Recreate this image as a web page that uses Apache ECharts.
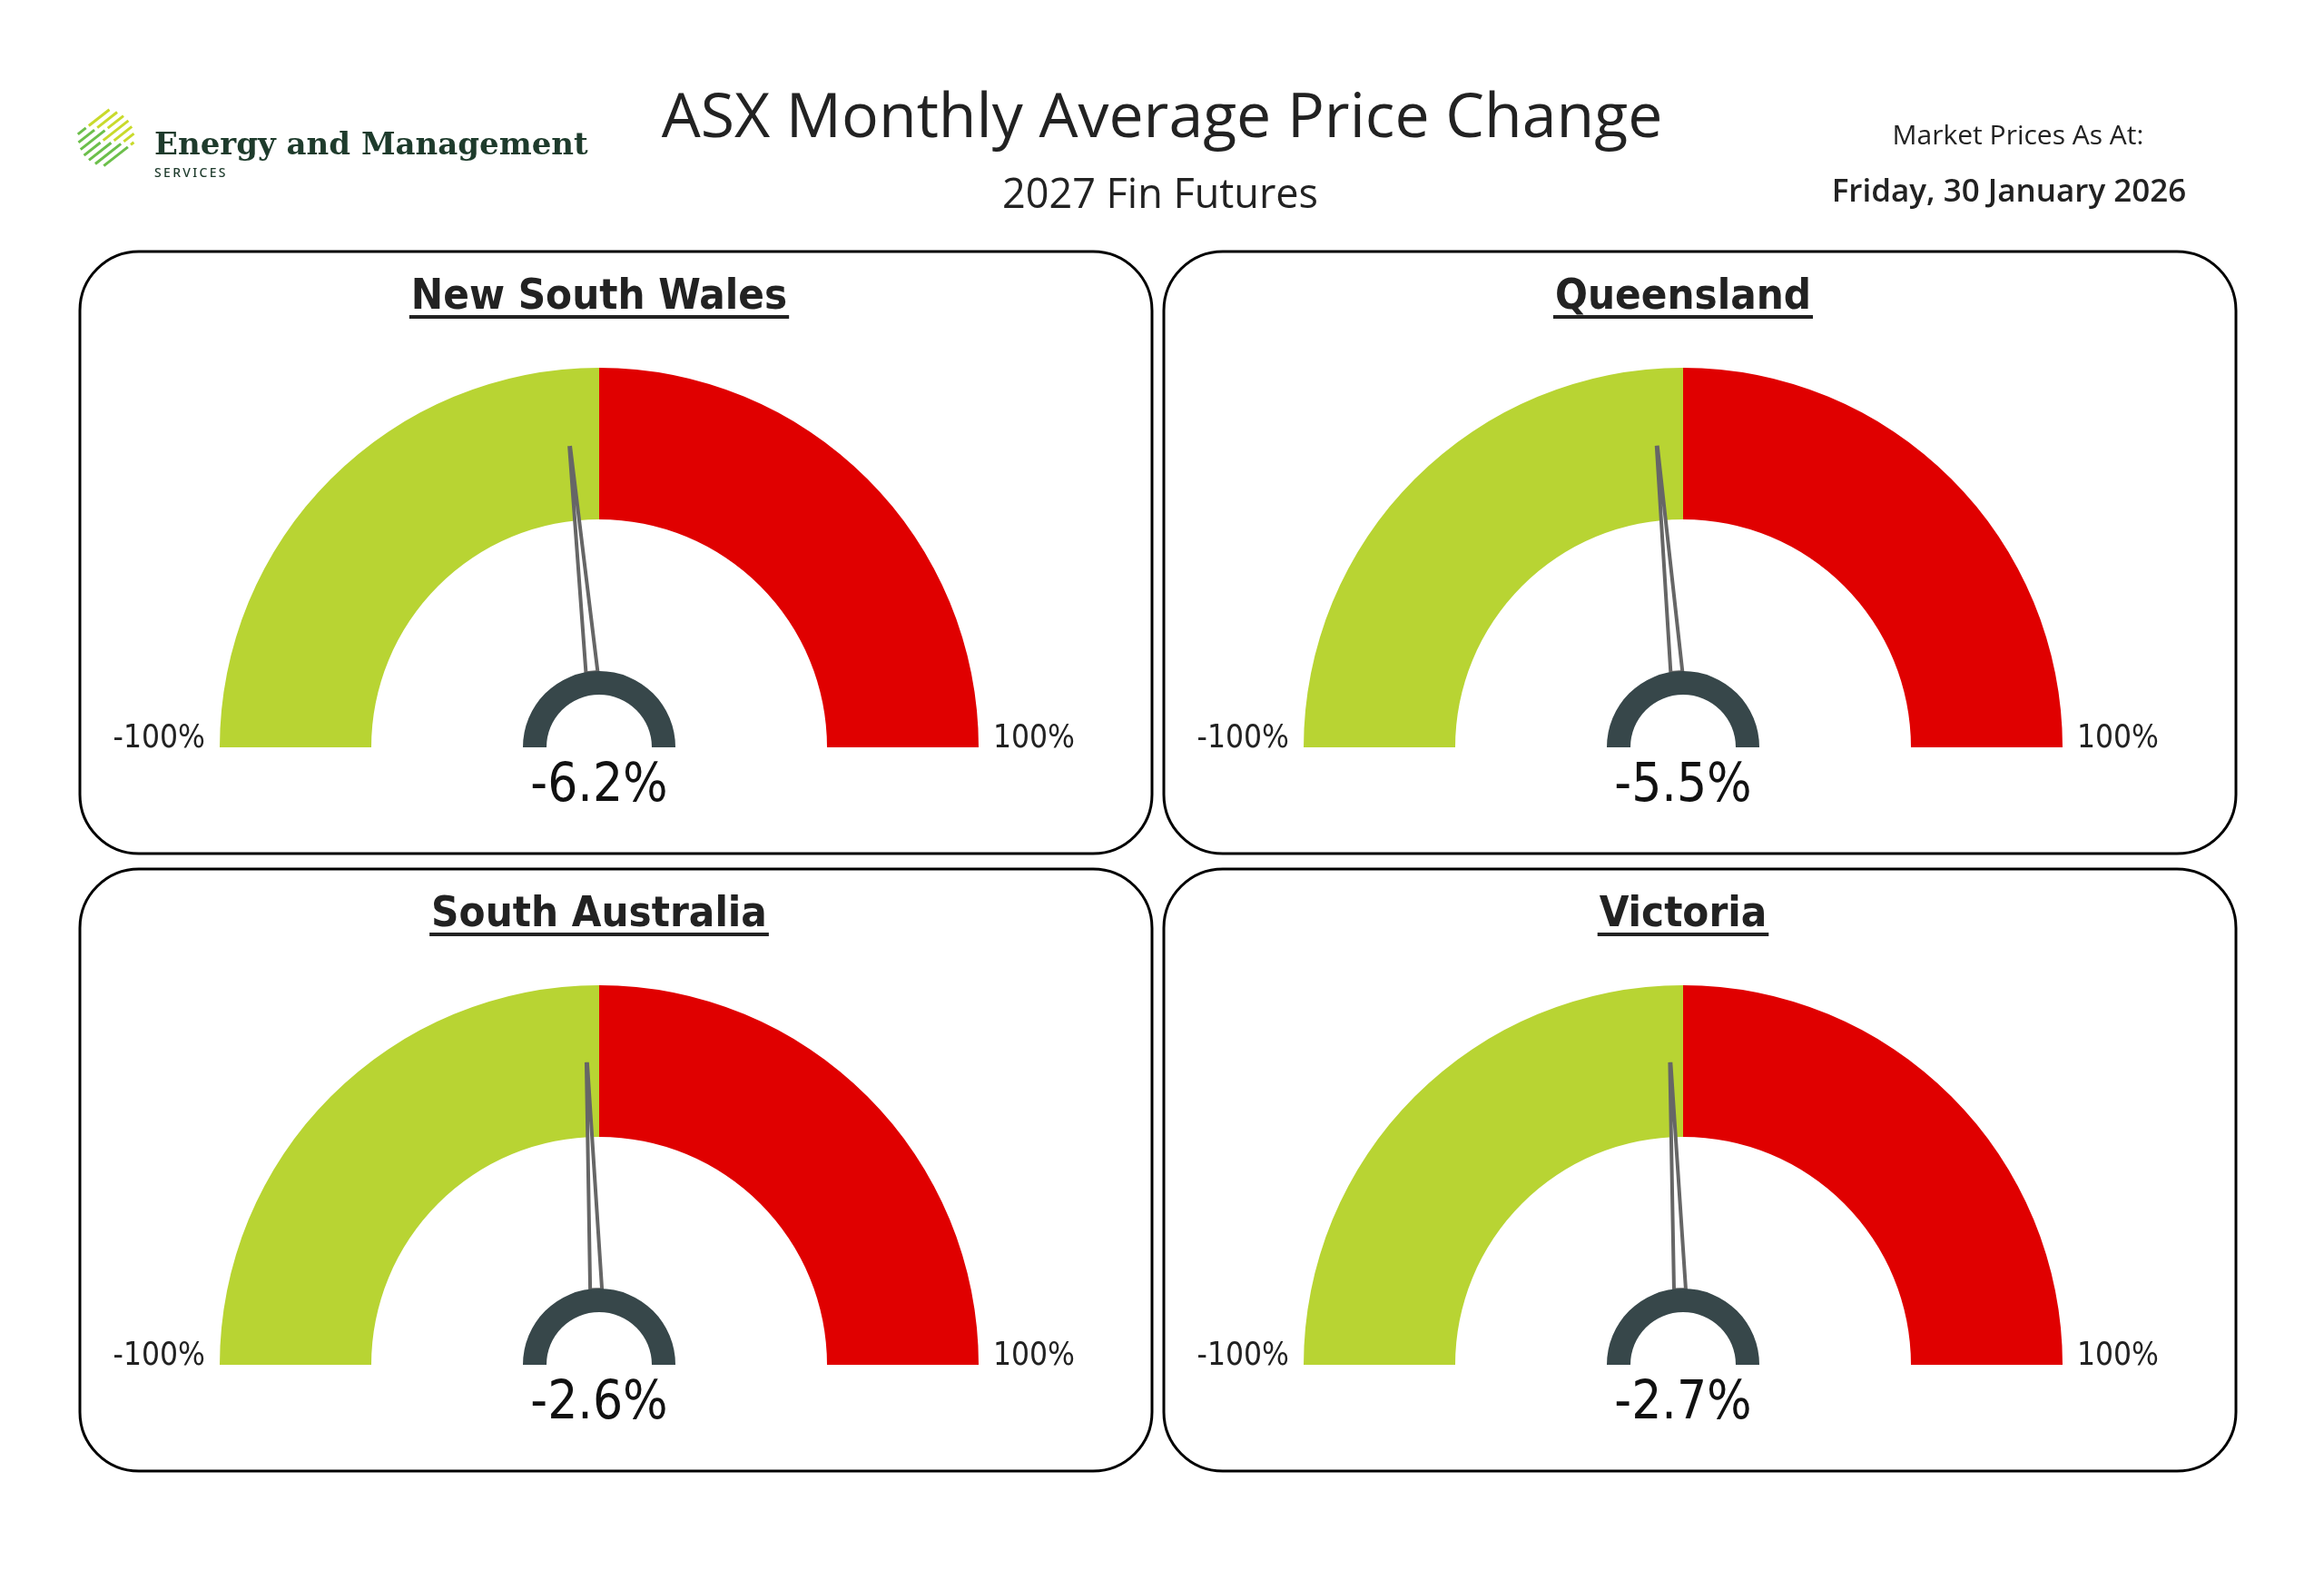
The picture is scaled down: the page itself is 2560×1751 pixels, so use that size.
<!DOCTYPE html>
<html>
<head>
<meta charset="utf-8">
<title>ASX Monthly Average Price Change</title>
<style>
  html, body { margin: 0; padding: 0; background: #fff; }
  #main { width: 2560px; height: 1751px; }
</style>
</head>
<body>
<div id="main"></div>
<script src="https://cdn.jsdelivr.net/npm/echarts@6/dist/echarts.min.js"></script>
<script type="text/javascript">
    // data
    var regions = ['New South Wales', 'Queensland', 'South Australia', 'Victoria'];
    var priceChange = [-6.2, -5.5, -2.6, -2.7];
    var axisMin = -100, axisMax = 100;
    var tickLabels = ['-100%', '100%'];
    var chartTitle = 'ASX Monthly Average Price Change';
    var chartSubtitle = '2027 Fin Futures';
    var asAtLabel = 'Market Prices As At:';
    var asAtDate = 'Friday, 30 January 2026';

    var GREEN = '#b8d433', RED = '#e00000', HUB = '#37474a', NEEDLE = '#666666', INK = '#222222';
    var condFont = '"DejaVu Sans Condensed", "Liberation Sans Narrow", sans-serif';
    var uiFont = '"Open Sans", "Noto Sans", sans-serif';

    var chart = echarts.init(document.getElementById('main'));

    // 2 x 2 panels
    var boxX = [88, 1282], boxY = [277, 957], boxW = 1181, boxH = 663;
    var R = 418, BAND = 167, LABEL_GAP = 16, LABEL_BOX = 130;

    var measure = document.createElement('canvas').getContext('2d');
    function textWidth(t, font) { measure.font = font; return measure.measureText(t).width; }

    var series = [], graphic = [];

    regions.forEach(function (name, i) {
        var bx = boxX[i % 2], by = boxY[Math.floor(i / 2)];
        var cx = bx + 572, cy = by + 546;
        var titleFont = 'bold 47px ' + condFont;

        graphic.push({ type: 'rect', shape: { x: bx, y: by, width: boxW, height: boxH, r: 65 },
            style: { fill: 'none', stroke: '#000', lineWidth: 3 } });
        graphic.push({ type: 'text', x: cx, y: by + 51,
            style: { text: name, font: titleFont, fill: INK, align: 'center', verticalAlign: 'middle' } });
        var w = textWidth(name, titleFont);
        graphic.push({ type: 'rect', shape: { x: cx - w / 2 - 2, y: by + 70, width: w + 4, height: 4 },
            style: { fill: INK } });

        // main gauge
        series.push({
            type: 'gauge', center: [cx, cy], radius: R,
            startAngle: 180, endAngle: 0, min: axisMin, max: axisMax, splitNumber: 1,
            axisLine: { lineStyle: { width: BAND, color: [[0.5, GREEN], [1, RED]] } },
            axisTick: { show: false },
            splitLine: { show: false, length: 0, distance: 0 },
            axisLabel: {
                distance: -(LABEL_GAP + LABEL_BOX),
                formatter: function (v) {
                    return v < 0 ? '{l|' + tickLabels[0] + '}' : '{r|' + tickLabels[1] + '}';
                },
                rich: {
                    l: { width: LABEL_BOX, align: 'right', fontSize: 35, fontFamily: condFont, color: INK, padding: [0, 0, 18, 0] },
                    r: { width: LABEL_BOX, align: 'left', fontSize: 35, fontFamily: condFont, color: INK, padding: [0, 0, 18, 0] }
                }
            },
            pointer: {
                icon: 'path://M-0.5,0 L0.5,0 L6.5,100 L-6.5,100 Z',
                length: '59.5%', width: 13, offsetCenter: [0, '-19.8%'],
                itemStyle: { color: '#fff', borderColor: NEEDLE, borderWidth: 4 }
            },
            anchor: { show: false },
            title: { show: false },
            detail: {
                offsetCenter: [0, '10.5%'], fontSize: 58, fontWeight: 'normal', fontFamily: condFont, color: '#111',
                formatter: function (v) { return v.toFixed(1) + '%'; }
            },
            data: [{ value: priceChange[i], name: name }]
        });

        // hub
        series.push({
            type: 'gauge', center: [cx, cy], radius: 84,
            startAngle: 180, endAngle: 0, min: axisMin, max: axisMax,
            axisLine: { lineStyle: { width: 26, color: [[1, HUB]] } },
            axisTick: { show: false }, splitLine: { show: false }, axisLabel: { show: false },
            pointer: { show: false }, anchor: { show: false },
            title: { show: false }, detail: { show: false },
            data: []
        });
    });

    // header
    graphic.push({ type: 'text', x: 1280, y: 132,
        style: { text: chartTitle, font: '68px ' + uiFont, fill: INK, align: 'center', verticalAlign: 'middle' } });
    graphic.push({ type: 'text', x: 1278, y: 216,
        style: { text: chartSubtitle, font: '45px ' + uiFont, fill: INK, align: 'center', verticalAlign: 'middle' } });
    graphic.push({ type: 'text', x: 2223, y: 150,
        style: { text: asAtLabel, font: '30px ' + uiFont, fill: INK, align: 'center', verticalAlign: 'middle' } });
    graphic.push({ type: 'text', x: 2213, y: 212,
        style: { text: asAtDate, font: '600 35px ' + uiFont, fill: INK, align: 'center', verticalAlign: 'middle' } });

    // logo stripes
    var dx = 0.788, dy = -0.616, nx = 0.616, ny = 0.788;
    var halfLen = [22, 27, 30, 31, 30, 27, 21];
    var greenPart = [0.3, 0.45, 0.6, 0.4, 0.55, 0.7, 0.85];
    for (var k = -3; k <= 3; k++) {
        var c0 = 117 + k * 7.5 * nx, c1 = 152 + k * 7.5 * ny, h = halfLen[k + 3];
        var x0 = c0 - h * dx, y0 = c1 - h * dy;
        var s = 2 * h * greenPart[k + 3];
        graphic.push({ type: 'line', shape: { x1: x0, y1: y0, x2: x0 + (s - 2) * dx, y2: y0 + (s - 2) * dy },
            style: { stroke: '#6cbf4b', lineWidth: 3 } });
        graphic.push({ type: 'line', shape: { x1: x0 + (s + 2) * dx, y1: y0 + (s + 2) * dy, x2: c0 + h * dx, y2: c1 + h * dy },
            style: { stroke: '#c9da2b', lineWidth: 3 } });
    }
    graphic.push({ type: 'text', x: 170, y: 161,
        style: { text: 'Energy and Management', font: 'bold 34px "DejaVu Serif", serif', fill: '#1e3b2c', align: 'left', verticalAlign: 'middle' } });
    graphic.push({ type: 'text', x: 170, y: 191,
        style: { text: 'S\u2009E\u2009R\u2009V\u2009I\u2009C\u2009E\u2009S', font: '500 14px "Noto Sans", sans-serif', fill: '#1e3b2c', align: 'left', verticalAlign: 'middle' } });

    chart.setOption({
        backgroundColor: '#fff',
        animation: false,
        graphic: graphic,
        series: series
    });
</script>
</body>
</html>
